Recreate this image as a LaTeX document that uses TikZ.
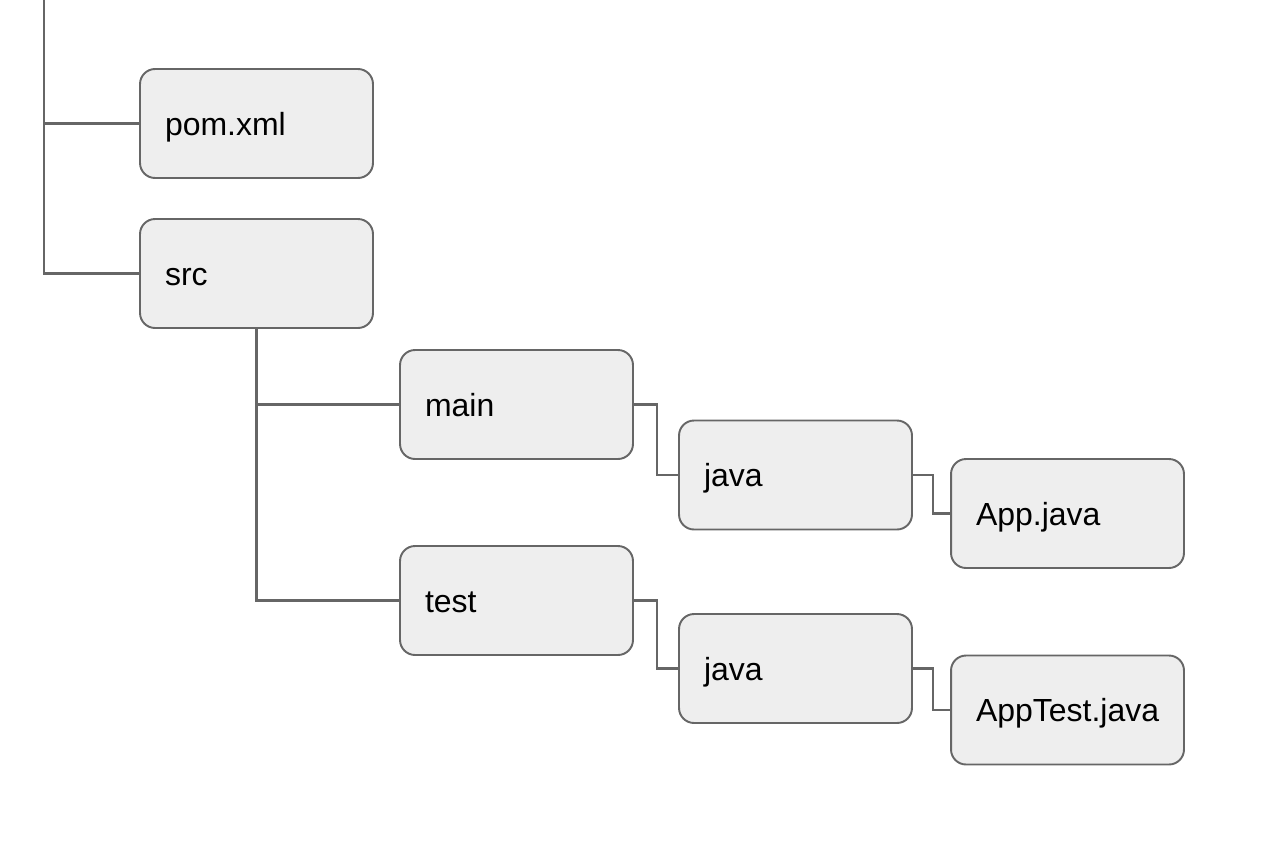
\documentclass[tikz,border=0pt]{standalone}
\usepackage{fontspec}
\setmainfont{Liberation Sans}
\usepackage{tikz}
\usetikzlibrary{calc,positioning}
\definecolor{boxfill}{HTML}{EEEEEE}
\definecolor{boxline}{HTML}{666666}

\begin{document}
\begin{tikzpicture}[x=0.02cm,y=-0.02cm,
    filebox/.style={draw=boxline,fill=boxfill,line width=1.1pt,rectangle,
      rounded corners=0.3cm,minimum width=4.66cm,minimum height=2.18cm,
      text width=3.66cm,inner xsep=0.5cm,inner ysep=0pt,align=left,
      text height=16pt,text depth=2.6pt,
      font=\fontsize{18.2}{22}\selectfont},
    wire/.style={draw=boxline,line width=1.3pt}]
  \useasboundingbox (0,0) rectangle (1264,846);
  \coordinate (R) at (44,0);
  \node at (256.5,123.5) (A) [filebox]{pom.xml};
  \node at (256.5,273.5) (B) [filebox]{src};
  \node at (516.5,404.5) (C) [filebox]{main};
  \node at (795.5,475) (D) [filebox]{java};
  \node at (1067.5,513.5) (E) [filebox]{App.java};
  \node at (516.5,600.5) (F) [filebox]{test};
  \node at (795.5,668.5) (G) [filebox]{java};
  \node at (1067.5,710) (H) [filebox]{AppTest.java};
  % tree lines
  \draw[wire] (R) |- (A.west);
  \draw[wire] (R) |- (B.west);
  \draw[wire] (B.south) |- (C.west);
  \draw[wire] (B.south) |- (F.west);
  \draw[wire] (C.east) -- ++(23,0) |- (D.west);
  \draw[wire] (D.east) -- ++(20,0) |- (E.west);
  \draw[wire] (F.east) -- ++(23,0) |- (G.west);
  \draw[wire] (G.east) -- ++(20,0) |- (H.west);
\end{tikzpicture}
\end{document}
